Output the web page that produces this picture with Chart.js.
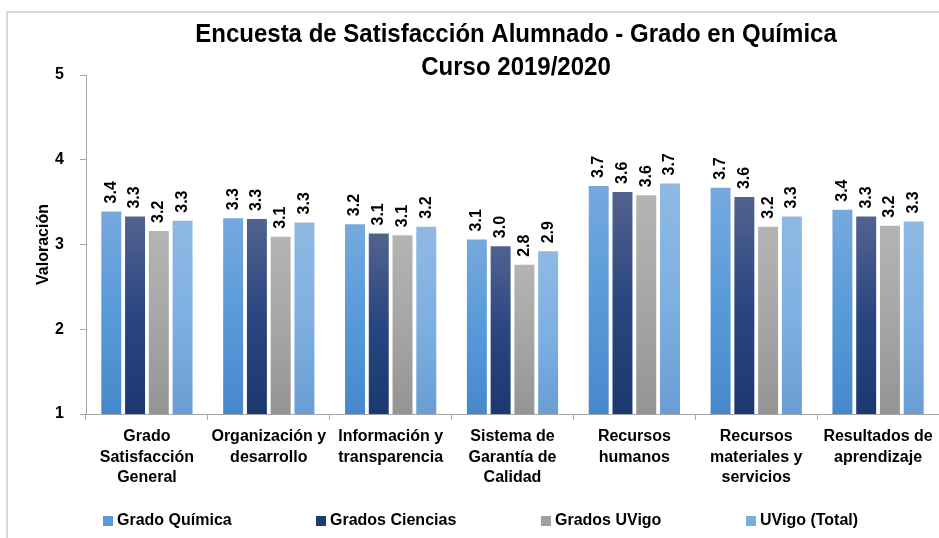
<!DOCTYPE html>
<html>
<head>
<meta charset="utf-8">
<script src="https://cdn.jsdelivr.net/npm/chart.js@4.4.1/dist/chart.umd.min.js"></script>
<style>
  html, body { margin: 0; padding: 0; background: #fff; }
  #wrap { position: relative; width: 939px; height: 538px; overflow: hidden; }
  #frame { position: absolute; left: 6px; top: 11px; width: 1000px; height: 600px;
           border-top: 2px solid #d9d9d9; border-left: 2px solid #d9d9d9; }
  #chart { position: absolute; left: 0; top: 0; }
</style>
</head>
<body>
<div id="wrap">
  <div id="frame"></div>
  <canvas id="chart" width="939" height="538"></canvas>
</div>
<script>
// Données
const categories = [
    ['Grado', 'Satisfacción', 'General'],
    ['Organización y', 'desarrollo'],
    ['Información y', 'transparencia'],
    ['Sistema de', 'Garantía de', 'Calidad'],
    ['Recursos', 'humanos'],
    ['Recursos', 'materiales y', 'servicios'],
    ['Resultados de', 'aprendizaje']
];
const seriesNames = ['Grado Química', 'Grados Ciencias', 'Grados UVigo', 'UVigo (Total)'];
const gradoQuimica   = [3.39, 3.31, 3.24, 3.06, 3.69, 3.67, 3.41];
const gradosCiencias = [3.33, 3.30, 3.13, 2.98, 3.62, 3.56, 3.33];
const gradosUVigo    = [3.16, 3.09, 3.11, 2.76, 3.58, 3.21, 3.22];
const uvigoTotal     = [3.28, 3.26, 3.21, 2.92, 3.72, 3.33, 3.27];
const yTicks = [1, 2, 3, 4, 5];
const titleLines = ['Encuesta de Satisfacción Alumnado - Grado en Química', 'Curso 2019/2020'];

const FONT = "'Liberation Sans Narrow', 'Arial Narrow', 'Liberation Sans', Arial, sans-serif";

// Dégradés verticaux (haut, milieu, bas) et couleur de légende
const palettes = [
    { stops: ['#76a9de', '#589ad9', '#4688ca'], solid: '#5a9ad8' },
    { stops: ['#52628f', '#2a4680', '#1c3870'], solid: '#1f3b73' },
    { stops: ['#b4b4b4', '#a6a6a6', '#949494'], solid: '#a0a0a0' },
    { stops: ['#8fb9e4', '#7eb0e2', '#6a9dd2'], solid: '#7aaee2' }
];

function barGradient(index) {
    return function(context) {
        const chart = context.chart;
        const area = chart.chartArea;
        const pal = palettes[index];
        if (!area || context.parsed == null) return pal.solid;
        const yScale = chart.scales.y;
        const top = yScale.getPixelForValue(context.parsed.y);
        const bottom = yScale.getPixelForValue(yScale.min);
        if (!isFinite(top) || !isFinite(bottom) || bottom <= top) return pal.solid;
        const g = chart.ctx.createLinearGradient(0, top, 0, bottom);
        g.addColorStop(0, pal.stops[0]);
        g.addColorStop(0.5, pal.stops[1]);
        g.addColorStop(1, pal.stops[2]);
        return g;
    };
}

const allSeries = [gradoQuimica, gradosCiencias, gradosUVigo, uvigoTotal];

// Étiquettes de valeur verticales au-dessus des barres
const valueLabels = {
    id: 'valueLabels',
    afterDatasetsDraw(chart) {
        const ctx = chart.ctx;
        ctx.save();
        ctx.font = 'bold 16px ' + FONT;
        ctx.fillStyle = '#000';
        ctx.textAlign = 'left';
        ctx.textBaseline = 'middle';
        chart.data.datasets.forEach((ds, i) => {
            chart.getDatasetMeta(i).data.forEach((bar, j) => {
                ctx.save();
                ctx.translate(bar.x, bar.y - 8);
                ctx.rotate(-Math.PI / 2);
                ctx.fillText(ds.data[j].toFixed(1), 0, 0);
                ctx.restore();
            });
        });
        ctx.restore();
    }
};

// Titre et légende dessinés à la manière d'Excel
const decorations = {
    id: 'decorations',
    afterDraw(chart) {
        const ctx = chart.ctx;
        ctx.save();
        ctx.fillStyle = '#000';
        ctx.textAlign = 'center';
        ctx.textBaseline = 'middle';
        ctx.font = 'bold 25px ' + FONT;
        // police un peu étroite comme dans l'original
        ctx.save();
        ctx.translate(516, 0);
        ctx.scale(0.96, 1);
        ctx.fillText(titleLines[0], 0, 35);
        ctx.fillText(titleLines[1], 0, 68);
        ctx.restore();

        const slots = [103, 316, 541, 746];
        ctx.font = 'bold 16px ' + FONT;
        ctx.textAlign = 'left';
        chart.data.datasets.forEach((ds, i) => {
            const x = slots[i];
            ctx.fillStyle = palettes[i].solid;
            ctx.fillRect(x, 516, 10, 10);
            ctx.fillStyle = '#000';
            ctx.fillText(ds.label, x + 14, 521);
        });
        ctx.restore();
    }
};

const ctx = document.getElementById('chart').getContext('2d');
const chart = new Chart(ctx, {
    type: 'bar',
    data: {
        labels: categories,
        datasets: allSeries.map((values, i) => ({
            label: seriesNames[i],
            data: values,
            backgroundColor: barGradient(i),
            borderWidth: 0,
            categoryPercentage: 0.78,
            barPercentage: 0.84
        }))
    },
    options: {
        responsive: false,
        animation: false,
        layout: { padding: { top: 75, right: 0, bottom: 0, left: 0 } },
        scales: {
            y: {
                min: 1,
                max: 5,
                afterFit(scale) { scale.width = 86; },
                afterBuildTicks(scale) { scale.ticks = yTicks.map(v => ({ value: v })); },
                border: { color: '#a6a6a6', width: 1 },
                grid: { display: true, drawOnChartArea: false, tickLength: 6, color: '#a6a6a6' },
                ticks: { padding: 16, color: '#000', font: { family: FONT, size: 16, weight: 'bold' } },
                title: {
                    display: true,
                    text: 'Valoración',
                    color: '#000',
                    font: { family: FONT, size: 16, weight: 'bold' },
                    padding: { top: 34, bottom: 0 }
                }
            },
            x: {
                afterFit(scale) { scale.height = 124; },
                border: { color: '#a6a6a6', width: 1 },
                grid: { display: true, drawOnChartArea: false, offset: true, tickLength: 6, color: '#a6a6a6' },
                ticks: {
                    padding: 6,
                    maxRotation: 0,
                    autoSkip: false,
                    color: '#000',
                    font: { family: FONT, size: 16, weight: 'bold', lineHeight: 1.3 }
                }
            }
        },
        plugins: {
            legend: { display: false },
            tooltip: { enabled: false }
        }
    },
    plugins: [valueLabels, decorations]
});
</script>
</body>
</html>
